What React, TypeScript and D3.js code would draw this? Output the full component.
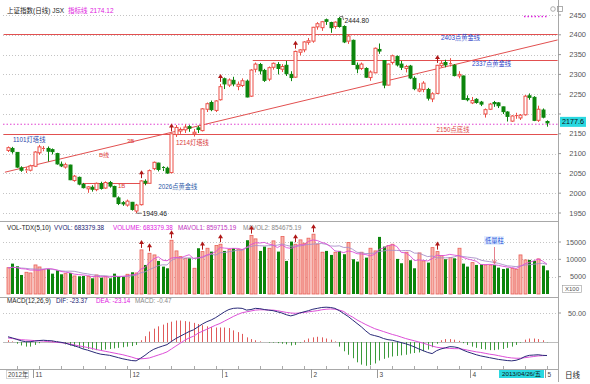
import React from 'react';
import * as d3 from 'd3';

// ---------------- DATA ----------------
const dates = [
  '2012-10-24','2012-10-25','2012-10-26','2012-10-29','2012-10-30','2012-10-31',
  '2012-11-01','2012-11-02','2012-11-05','2012-11-06','2012-11-07','2012-11-08','2012-11-09','2012-11-12','2012-11-13','2012-11-14','2012-11-15','2012-11-16','2012-11-19','2012-11-20','2012-11-21','2012-11-22','2012-11-23','2012-11-26','2012-11-27','2012-11-28','2012-11-29','2012-11-30',
  '2012-12-03','2012-12-04','2012-12-05','2012-12-06','2012-12-07','2012-12-10','2012-12-11','2012-12-12','2012-12-13','2012-12-14','2012-12-17','2012-12-18','2012-12-19','2012-12-20','2012-12-21','2012-12-24','2012-12-25','2012-12-26','2012-12-27','2012-12-28','2012-12-31',
  '2013-01-04','2013-01-07','2013-01-08','2013-01-09','2013-01-10','2013-01-11','2013-01-14','2013-01-15','2013-01-16','2013-01-17','2013-01-18','2013-01-21','2013-01-22','2013-01-23','2013-01-24','2013-01-25','2013-01-28','2013-01-29','2013-01-30','2013-01-31',
  '2013-02-01','2013-02-04','2013-02-05','2013-02-06','2013-02-07','2013-02-08','2013-02-18','2013-02-19','2013-02-20','2013-02-21','2013-02-22','2013-02-25','2013-02-26','2013-02-27','2013-02-28',
  '2013-03-01','2013-03-04','2013-03-05','2013-03-06','2013-03-07','2013-03-08','2013-03-11','2013-03-12','2013-03-13','2013-03-14','2013-03-15','2013-03-18','2013-03-19','2013-03-20','2013-03-21','2013-03-22','2013-03-25','2013-03-26','2013-03-27','2013-03-28','2013-03-29',
  '2013-04-01','2013-04-02','2013-04-03','2013-04-08','2013-04-09','2013-04-10','2013-04-11','2013-04-12','2013-04-15','2013-04-16','2013-04-17','2013-04-18','2013-04-19','2013-04-22','2013-04-23','2013-04-24','2013-04-25','2013-04-26'
];

const open = [2108,2113,2103,2064,2057,2058,2068,2102,2111,2113,2110,2100,2073,2066,2071,2032,2040,2022,2011,2015,2009,2024,2013,2027,2017,1988,1976,1970,1977,1955,1971,2030,2025,2062,2076,2065,2063,2052,2148,2157,2160,2168,2150,2165,2158,2212,2229,2209,2236,2289,2273,2285,2270,2272,2283,2245,2313,2325,2310,2288,2318,2325,2313,2323,2300,2293,2356,2362,2381,2384,2420,2418,2438,2431,2421,2441,2421,2384,2386,2323,2315,2315,2292,2304,2363,2335,2273,2330,2345,2326,2315,2321,2290,2258,2262,2262,2238,2252,2322,2330,2325,2323,2296,2296,2239,2228,2237,2230,2200,2212,2229,2228,2218,2205,2182,2195,2190,2198,2246,2242,2184,2210,2181];
const high = [2118,2117,2104,2068,2066,2072,2106,2122,2119,2118,2113,2102,2080,2077,2072,2046,2042,2026,2018,2020,2027,2029,2030,2031,2019,1992,1980,1984,1978,1973,2033,2035,2060,2080,2077,2068,2067,2151,2172,2166,2174,2172,2162,2170,2215,2229,2234,2235,2276,2292,2290,2294,2282,2290,2287,2313,2330,2329,2314,2320,2330,2331,2326,2334,2308,2360,2364,2384,2392,2420,2432,2435,2441,2433,2434,2444.8,2424,2400,2388,2330,2330,2318,2310,2368,2378,2336,2327,2350,2348,2334,2324,2324,2295,2278,2283,2266,2255,2324,2336,2337,2341,2326,2308,2297,2247,2243,2240,2233,2214,2228,2233,2230,2219,2207,2197,2203,2200,2248,2252,2245,2221,2214,2184];
const low = [2104,2100,2064,2054,2051,2055,2066,2097,2106,2080,2098,2072,2066,2062,2033,2029,2020,2012,2001,2004,2005,2009,2011,2014,1990,1970,1968,1966,1956,1949.46,1969,2020,2024,2058,2055,2056,2049,2050,2142,2150,2152,2155,2143,2152,2156,2205,2207,2205,2234,2263,2268,2270,2260,2268,2242,2243,2305,2300,2281,2283,2312,2300,2306,2296,2283,2291,2348,2356,2375,2380,2413,2410,2425,2405,2415,2418,2379,2377,2324,2303,2311,2291,2284,2303,2352,2265,2272,2325,2320,2311,2305,2288,2260,2255,2255,2234,2230,2250,2318,2318,2320,2295,2290,2236,2232,2225,2226,2220,2191,2210,2218,2215,2200,2181,2180,2188,2185,2196,2236,2182,2180,2189,2168];
const close = [2115,2105,2066,2058,2059,2069,2104,2117,2113,2106,2105,2074,2069,2072,2034,2043,2023,2014,2016,2010,2025,2012,2027,2018,1991,1974,1973,1980,1959,1970,2031,2026,2057,2078,2060,2063,2051,2150,2166,2161,2167,2164,2154,2161,2213,2226,2211,2233,2269,2276,2286,2276,2275,2284,2243,2311,2326,2309,2285,2317,2328,2315,2320,2302,2292,2358,2362,2382,2385,2419,2428,2433,2434,2418,2432,2421,2382,2397,2325,2314,2326,2293,2306,2366,2359,2273,2326,2347,2324,2318,2320,2291,2264,2263,2278,2240,2251,2323,2328,2324,2327,2297,2300,2237,2236,2234,2229,2225,2211,2225,2226,2221,2206,2194,2195,2196,2197,2245,2242,2184,2212,2192,2177.6];

// volume in units of 100 (axis X100)
const volume = [7600,8760,8000,5490,6270,6070,8380,7800,7020,7220,5870,6850,5690,5870,6070,5200,5110,5200,5110,4530,5490,4720,5110,4530,5870,5010,5010,5690,6270,6070,12720,8380,11750,11270,9540,7900,7420,15500,12430,10780,10300,10300,7420,13200,12230,13200,12230,13970,14360,12430,12810,13200,12910,12810,15510,16850,15900,12430,13680,13200,15320,12230,16560,9540,15120,14360,15610,14650,16100,17250,14400,12050,12430,11270,12050,12430,11470,14830,10030,9350,12050,10490,13200,12430,16470,13680,13970,14360,10120,8870,12050,9740,7420,11850,9540,9050,13380,12230,11070,10030,10490,10300,13200,8760,7900,9050,8380,8580,8380,8380,8380,7600,7220,7420,7420,7140,11270,9830,9830,9540,10120,8180,6830];
const mavol1 = [7500,7700,7600,7300,7200,6900,6900,6800,7100,7300,7260,6950,6500,6300,6100,5740,5590,5490,5340,5030,5090,5010,4990,4880,5140,5050,5110,5220,5570,5610,7150,7620,9060,10140,10730,9770,9580,10370,10550,10340,10890,11330,10240,10400,10690,11270,11650,12170,13400,13240,13140,13170,13150,12830,13450,14250,14800,14700,14890,14410,14140,13370,14200,13380,13160,13560,14240,14100,15170,15600,15420,14890,14550,13640,12440,12250,11940,12410,12170,11620,11550,11350,11020,11430,12930,13250,13940,14190,13720,12000,11870,11030,9640,9830,9720,9520,10170,11210,11050,11140,11440,11220,11020,10560,10130,9810,9450,8530,8470,8550,8420,8260,8000,7790,7610,7360,8000,8690,9140,9520,10130,9500,8597];
const mavol2 = [7600,7700,7650,7500,7400,7250,7200,7150,7200,7250,7100,6920,6670,6560,6590,6540,6270,5990,5820,5570,5420,5300,5240,5110,5090,5070,5060,5100,5230,5400,6100,6370,7050,7570,8170,8420,8370,9720,10340,10540,10330,10450,10300,10390,10520,11080,11490,11200,11900,11970,12200,12400,12660,12600,13340,13700,13990,13930,13870,13930,13960,14090,14450,14040,13780,13850,13810,14150,14280,14380,14490,14570,14330,13870,13800,13900,13420,13480,12900,12030,11900,11650,11720,11800,12280,12400,12650,12600,12570,12470,12560,12490,11790,11780,11270,10780,10970,10430,10440,10430,10480,10700,11120,10800,10640,10480,10330,9780,9510,9340,9110,8850,8490,8130,8040,7890,8130,8340,8470,8570,8780,8860,8547];

const dif = [9,7,4.5,2,0.5,0.5,1.5,2.5,3,2.5,2,0.5,-0.5,-2,-4.5,-6.5,-9,-12,-14,-16.5,-19,-21,-22,-23,-25,-27,-29,-30.5,-32,-32.5,-28,-23,-17,-12.5,-9.5,-7,-4.5,1,6,10,14,18,21,26,31,35,38,42,47,52,56,58,58.5,58,55,56,58,57.5,56,55,54,52,50,47,45,47,50,52,54,56.5,58,59.5,60,59.5,58,54,49,44,38,32,26,19,13,11,9,6,4,3,1,-1,-3,-5.5,-8.5,-12,-15,-18,-20,-15,-12,-10,-8,-8.5,-10,-14,-17,-19.5,-22,-24,-25.5,-27,-28.5,-30,-31,-32,-32.5,-31.5,-29,-25,-23,-22.5,-22,-23,-23.37];
const dea = [7,6,5,4,3.5,3,2.5,2,1.5,0.8,0,-0.5,-1.2,-2,-3.5,-5,-6.5,-8,-9.5,-11,-13,-14.5,-16,-17.5,-19,-20.5,-22,-24,-26,-28.5,-29,-28.5,-27.5,-25,-22.5,-20,-17,-12,-7,-2,3,7,10,15,18.5,22,25.5,29,32,36,40,44,47.5,50.5,52,53.5,55,55.5,55.5,55,55,54,52.5,51,50,49.5,50,51,52,53,54,55.5,56.5,57,56.5,55,52.5,47,43,38,34,30,26.5,23,20.5,18,15.5,13,11,8.5,6,4,2,0,-2,-4.5,-7,-9,-10,-10.5,-11,-11.5,-11.5,-12.5,-14,-15.5,-17,-18,-19.5,-21,-22,-23.5,-25,-26.5,-27.5,-28,-28,-27,-26,-25,-24,-23.5,-23.14];
const macd = [3,1,-3,-6,-8,-8,-5,-2,0,1,2,1,-1,-4,-6,-8,-10,-11,-12,-13,-14,-14,-13,-12,-11,-10,-9,-8,-7,-5,3,10,18,23,27,30,33,35,37,37,36,35,33,31,29,27,26,25,25,25,24,20,17,14,8,5,3,1,0,-1,-1,-2,-3,-4,-6,-5,-1,3,6,8,9,8,6,4,1,-8,-16,-22,-28,-35,-39,-41,-40,-37,-32,-29,-27,-25,-24,-23,-22,-20,-19,-18,-16,-13,-9,-3,3,5,5,4,2,-2,-5,-8,-10,-12,-13,-14,-14,-13,-12,-10,-8,-5,-1,4,6,6,5,3,-0.47];

const priceTicks = [1950, 2000, 2050, 2100, 2150, 2200, 2250, 2300, 2350, 2400, 2450];
const volTicks = [5000, 10000, 15000];
const macdTicks = [50];

// drawn support/resistance lines: price, label, from index, to index
const levelPrices = [2403, 2337, 2150, 2026];
const levelLabels = ['2403点黄金线', '2337点黄金线', '2150点底线', '2026点黄金线'];
const levelFrom = [-1, 55.4, -1, 16.8];
const levelTo = [124.4, 124.4, 124.4, 31.6];
const levelColors = ['#2a44c8', '#2a44c8', '#e04a4a', '#2a5aa8'];
const levelLabelIdx = [98, 105, 97, 34];

const trendIdx = [-0.7, 124.4];
const trendPrice = [2053, 2387];

const signalIdx = [30, 37, 48, 65, 97];
const volSignalIdx = [30, 32, 37, 44, 48, 55, 65, 69, 97];
const jsxValue = 2174.12;
const lowVolIdx = 110;

// ---------------- CHART ----------------
const FONT = "'Liberation Sans','Noto Sans CJK SC',sans-serif";
const RED = '#ec4d45';
const GREEN = '#0c850c';

export default function App() {
  const W = 590, H = 384;
  const RX = 558;
  const n = close.length;
  const x = d3.scaleLinear().domain([0, n - 1]).range([8, 547]);
  const yP = d3.scaleLinear().domain([1950, 2450]).range([213, 15]);
  const yV = d3.scaleLinear().domain([0, 15000]).range([294, 242]);
  const yM = d3.scaleLinear().domain([0, 50]).range([342, 313]);

  const lineV = d3.line<number>().x((_, i) => x(i)).y(d => yV(d));
  const lineM = d3.line<number>().x((_, i) => x(i)).y(d => yM(d));

  const up = close.map((c, i) => c >= open[i]);
  const cx = (i: number) => Math.round(x(i)) + 0.5;

  const monthIdx: number[] = [];
  dates.forEach((d, i) => {
    if (i > 0 && d.slice(5, 7) !== dates[i - 1].slice(5, 7)) monthIdx.push(i);
  });

  const maxI = d3.maxIndex(high);
  const minI = d3.minIndex(low);
  const lastY = yP(close[n - 1]);

  const marker = (px: number, py: number, key: string) => (
    <g key={key}>
      <line x1={px} x2={px} y1={py + 2} y2={py + 7} stroke="#b01818" strokeWidth={1} />
      <path d={`M${px - 2.5},${py + 3} L${px},${py - 1} L${px + 2.5},${py + 3} Z`} fill="#b01818" />
    </g>
  );

  return (
    <svg width={W} height={H} style={{ position: 'absolute', left: 0, top: 0, background: '#fff' }} fontFamily={FONT}>
      <rect x={0} y={0} width={W} height={H} fill="#fff" />

      {/* grids */}
      {priceTicks.map(p => (
        <line key={'g' + p} x1={3} x2={RX} y1={Math.round(yP(p)) + 0.5} y2={Math.round(yP(p)) + 0.5} stroke="#c4c4c4" strokeDasharray="1,2" />
      ))}
      {volTicks.map(v => (
        <line key={'gv' + v} x1={3} x2={RX} y1={Math.round(yV(v)) + 0.5} y2={Math.round(yV(v)) + 0.5} stroke="#c4c4c4" strokeDasharray="1,2" />
      ))}
      {macdTicks.map(v => (
        <line key={'gm' + v} x1={3} x2={RX} y1={Math.round(yM(v)) + 0.5} y2={Math.round(yM(v)) + 0.5} stroke="#c4c4c4" strokeDasharray="1,2" />
      ))}
      <line x1={3} x2={RX} y1={Math.round(yM(0)) + 0.5} y2={Math.round(yM(0)) + 0.5} stroke="#bdbdbd" />

      {/* panel frames */}
      <line x1={0} x2={RX} y1={221.5} y2={221.5} stroke="#a8a8a8" />
      <line x1={0} x2={RX} y1={297.5} y2={297.5} stroke="#a8a8a8" />
      <line x1={0} x2={RX} y1={369.5} y2={369.5} stroke="#a8a8a8" />
      <line x1={RX + 0.5} x2={RX + 0.5} y1={0} y2={382} stroke="#a8a8a8" />

      {/* title */}
      <text x={7} y={13} fontSize={6.5} fill="#222">上证指数(日线) JSX</text>
      <text x={68} y={13} fontSize={6.5} fill="#e020e0">指标线</text>
      <text x={90} y={13} fontSize={6.5} fill="#e020e0">{jsxValue.toFixed(2)}</text>
      <line x1={524} x2={548} y1={16.5} y2={16.5} stroke="#e020e0" strokeWidth={1.5} strokeDasharray="1.5,2" />
      <circle cx={553} cy={9} r={2.3} fill="none" stroke="#999" strokeWidth={0.8} />
      <rect x={557.5} y={6.5} width={5} height={5} fill="none" stroke="#999" strokeWidth={0.8} />

      {/* JSX indicator dotted line */}
      <line x1={3} x2={RX} y1={yP(jsxValue)} y2={yP(jsxValue)} stroke="#e040d0" strokeDasharray="1.5,2" />

      {/* support/resistance lines */}
      {levelPrices.map((p, k) => (
        <g key={'lv' + k}>
          <line x1={Math.max(3, x(levelFrom[k]))} x2={Math.min(RX, x(levelTo[k]))} y1={Math.round(yP(p)) + 0.5} y2={Math.round(yP(p)) + 0.5} stroke="#e25050" />
          <text x={x(levelLabelIdx[k])} y={yP(p) + (k === 2 ? -2 : 6)} fontSize={6.3} fill={levelColors[k]}>{levelLabels[k]}</text>
        </g>
      ))}
      <line x1={x(trendIdx[0])} x2={x(trendIdx[1])} y1={yP(trendPrice[0])} y2={yP(trendPrice[1])} stroke="#e25050" />

      {/* annotations */}
      <text x={13} y={142} fontSize={6.3} fill="#2a44a8">1101灯塔线</text>
      <text x={176} y={145} fontSize={6.3} fill="#d83a3a">1214灯塔线</text>
      <text x={127} y={143} fontSize={6} fill="#e04040">3B</text>
      <text x={99} y={157} fontSize={6} fill="#e04040">B线</text>
      <text x={118} y={188} fontSize={6} fill="#e04040">1B</text>

      {/* candles */}
      {close.map((c, i) => {
        const col = up[i] ? RED : GREEN;
        const top = yP(Math.max(open[i], c));
        const bot = yP(Math.min(open[i], c));
        const xc = cx(i);
        return (
          <g key={'c' + i}>
            <line x1={xc} x2={xc} y1={yP(high[i])} y2={top} stroke={col} />
            <line x1={xc} x2={xc} y1={bot} y2={yP(low[i])} stroke={col} />
            {bot - top < 1 ? (
              <line x1={xc - 1.5} x2={xc + 1.5} y1={top} y2={top} stroke={col} />
            ) : (
              <rect x={xc - 1.5} y={top} width={3} height={bot - top} fill={up[i] ? '#fff' : GREEN} stroke={col} strokeWidth={1} />
            )}
          </g>
        );
      })}
      {signalIdx.map(i => marker(cx(i), yP(high[i]) - 9, 'sm' + i))}

      {/* high / low labels */}
      <path d={`M${cx(maxI)},${yP(high[maxI])} L${cx(maxI) + 3},${yP(high[maxI]) - 1} L${cx(maxI) + 4},${yP(high[maxI]) + 3}`} fill="none" stroke="#333" strokeWidth={0.7} />
      <text x={cx(maxI) + 5} y={yP(high[maxI]) + 6} fontSize={6.8} fill="#222">{high[maxI].toFixed(2)}</text>
      <line x1={cx(minI)} x2={cx(minI) + 5} y1={yP(low[minI])} y2={yP(low[minI])} stroke="#333" strokeWidth={0.7} />
      <text x={cx(minI) + 6} y={yP(low[minI]) + 2.5} fontSize={6.8} fill="#222">{low[minI].toFixed(2)}</text>

      {/* price axis */}
      {priceTicks.map(p => (
        <g key={'pt' + p}>
          <line x1={RX} x2={RX + 3} y1={yP(p)} y2={yP(p)} stroke="#999" />
          {Math.abs(yP(p) - lastY) > 10 ? (
            <text x={586} y={yP(p)} dy="0.35em" fontSize={7.5} fill="#555" textAnchor="end">{p}</text>
          ) : null}
        </g>
      ))}
      <rect x={560} y={lastY - 6} width={26} height={10} fill="#2ad8e0" />
      <text x={573} y={lastY - 1} dy="0.35em" fontSize={7.2} fill="#111" textAnchor="middle">{close[n - 1].toFixed(1)}</text>

      {/* volume panel */}
      <text y={230} fontSize={6.3}>
        <tspan x={7} fill="#222">VOL-TDX(5,10)</tspan>
        <tspan x={54} fill="#202070">VVOL: 683379.38</tspan>
        <tspan x={113} fill="#e020e0">VOLUME: 683379.38</tspan>
        <tspan x={178} fill="#c030c0">MAVOL1: 859715.19</tspan>
        <tspan x={243} fill="#888">MAVOL2: 854675.19</tspan>
      </text>
      {volume.map((v, i) => {
        const xc = cx(i);
        const t = yV(v);
        return up[i] ? (
          <rect key={'v' + i} x={xc - 1.5} y={t} width={3} height={yV(0) - t} fill="#f7b6ae" stroke="#ea6058" strokeWidth={0.8} />
        ) : (
          <rect key={'v' + i} x={xc - 1.5} y={t} width={3} height={yV(0) - t} fill={GREEN} />
        );
      })}
      <path d={lineV(mavol2) || ''} fill="none" stroke="#a890c8" strokeWidth={0.9} />
      <path d={lineV(mavol1) || ''} fill="none" stroke="#dd4fd8" strokeWidth={0.9} />
      {volSignalIdx.map(i => marker(cx(i), yV(volume[i]) - 9, 'vm' + i))}
      <rect x={484} y={236} width={20} height={9} fill="#e4eeff" />
      <text x={485} y={243} fontSize={6.3} fill="#1a50d8">低量柱</text>
      <line x1={cx(lowVolIdx)} x2={cx(lowVolIdx)} y1={247} y2={yV(volume[lowVolIdx]) - 2} stroke="#e06070" strokeWidth={0.8} />
      <path d={`M${cx(lowVolIdx) - 2},${yV(volume[lowVolIdx]) - 5} L${cx(lowVolIdx)},${yV(volume[lowVolIdx]) - 1} L${cx(lowVolIdx) + 2},${yV(volume[lowVolIdx]) - 5}`} fill="none" stroke="#e06070" strokeWidth={0.8} />
      {volTicks.map(v => (
        <g key={'vt' + v}>
          <line x1={RX} x2={RX + 3} y1={yV(v)} y2={yV(v)} stroke="#999" />
          <text x={586} y={yV(v)} dy="0.35em" fontSize={7.2} fill="#555" textAnchor="end">{v}</text>
        </g>
      ))}
      <rect x={562.5} y={285.5} width={19} height={7} fill="#fff" stroke="#999" strokeWidth={0.6} />
      <text x={572} y={289} dy="0.35em" fontSize={6} fill="#555" textAnchor="middle">X100</text>

      {/* MACD panel */}
      <text y={303} fontSize={6.3}>
        <tspan x={7} fill="#222">MACD(12,26,9)</tspan>
        <tspan x={56} fill="#202070">DIF: -23.37</tspan>
        <tspan x={96} fill="#e020e0">DEA: -23.14</tspan>
        <tspan x={135} fill="#888">MACD: -0.47</tspan>
      </text>
      {macd.map((v, i) => (
        <line key={'m' + i} x1={cx(i)} x2={cx(i)} y1={yM(0)} y2={yM(v)} stroke={v >= 0 ? '#e05a5a' : '#3a9a3a'} strokeWidth={1} />
      ))}
      <path d={lineM(dea) || ''} fill="none" stroke="#dd4fd8" strokeWidth={1} />
      <path d={lineM(dif) || ''} fill="none" stroke="#2a2a78" strokeWidth={1} />
      {macdTicks.map(v => (
        <g key={'mt' + v}>
          <line x1={RX} x2={RX + 3} y1={yM(v)} y2={yM(v)} stroke="#999" />
          <text x={586} y={yM(v)} dy="0.35em" fontSize={7.2} fill="#555" textAnchor="end">{v.toFixed(2)}</text>
        </g>
      ))}

      {/* date axis */}
      {close.map((_, i) => (i % 5 === 2 ? (
        <line key={'dt' + i} x1={cx(i)} x2={cx(i)} y1={366} y2={369} stroke="#aaa" />
      ) : null))}
      <rect x={6.5} y={370.5} width={22} height={8} fill="#fff" stroke="#bbb" strokeWidth={0.6} />
      <text x={8} y={377} fontSize={6.3} fill="#444">2012年</text>
      {monthIdx.map(i => (
        <g key={'mo' + i}>
          <line x1={cx(i) - 2} x2={cx(i) - 2} y1={369} y2={378} stroke="#999" />
          <text x={cx(i)} y={377} fontSize={6.5} fill="#444">{String(+dates[i].slice(5, 7))}</text>
        </g>
      ))}
      <line x1={cx(n - 1) - 2} x2={cx(n - 1) - 2} y1={369} y2={378} stroke="#999" />
      <text x={cx(n - 1)} y={377} fontSize={6.5} fill="#444">5</text>
      <rect x={499} y={370} width={45} height={8} fill="#2ad8e0" />
      <text x={521.5} y={374} dy="0.35em" fontSize={6.2} fill="#111" textAnchor="middle">{dates[n - 1].replace(/-/g, '/')}/五</text>
      <text x={565} y={378} fontSize={7.5} fill="#222">日线</text>
    </svg>
  );
}
